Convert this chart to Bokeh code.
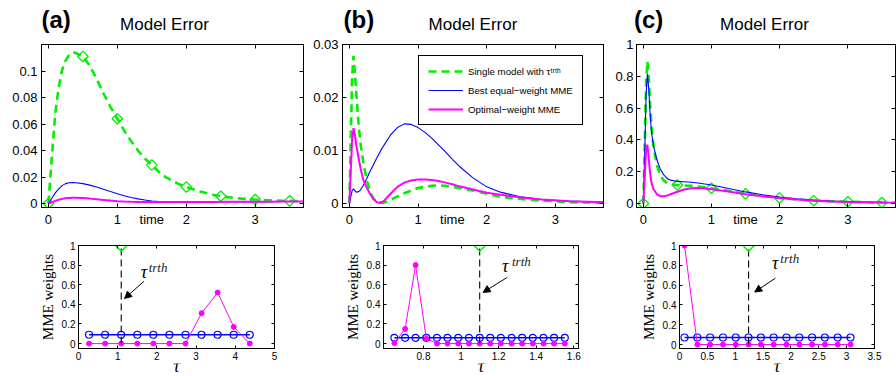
from bokeh.plotting import figure
from bokeh.models import (Range1d, FixedTicker, LinearAxis, Label, Arrow, NormalHead,
                          Legend, LegendItem)
from bokeh.layouts import row, column
from bokeh.embed import file_html
from bokeh.resources import INLINE

# ---------------- data ----------------
TIME_TICKS = [0, 1, 2, 3]
TIME_LABEL_POS = [0, 1, 1.5, 2, 3]
TIME_LABEL_TEXT = ["0", "1", "time", "2", "3"]

# panel (a) - model error
A_TIME = [0, 0.05, 0.1, 0.15, 0.2, 0.25, 0.3, 0.35, 0.4, 0.5, 0.6, 0.7, 0.8, 0.9, 1.0,
          1.1, 1.2, 1.3, 1.4, 1.5, 1.6, 1.7, 1.8, 1.9, 2.0, 2.2, 2.4, 2.6, 2.8, 3.0,
          3.2, 3.4, 3.7]
A_SINGLE = [0, 0.035, 0.068, 0.088, 0.101, 0.108, 0.112, 0.114, 0.1135, 0.111, 0.104,
            0.094, 0.083, 0.073, 0.064, 0.055, 0.047, 0.040, 0.034, 0.029, 0.024, 0.020,
            0.017, 0.0145, 0.0125, 0.009, 0.0065, 0.0048, 0.0037, 0.003, 0.0025, 0.0021,
            0.0018]
A_EQUAL = [0, 0.004, 0.008, 0.011, 0.0135, 0.015, 0.0157, 0.0159, 0.0157, 0.015, 0.0139,
           0.0124, 0.0107, 0.009, 0.0074, 0.0059, 0.0046, 0.0035, 0.0026, 0.0019, 0.0015,
           0.0013, 0.0012, 0.0012, 0.0012, 0.0012, 0.0012, 0.0013, 0.0013, 0.0014, 0.0014,
           0.0015, 0.0015]
A_OPT = [0, 0.001, 0.002, 0.0028, 0.0035, 0.004, 0.0042, 0.0043, 0.0043, 0.0041, 0.0037,
         0.0032, 0.0027, 0.0022, 0.0018, 0.0015, 0.0013, 0.0012, 0.0011, 0.0011, 0.0011,
         0.0011, 0.0011, 0.0011, 0.0012, 0.0012, 0.0012, 0.0013, 0.0013, 0.0014, 0.0014,
         0.0015, 0.0015]
A_MARK_T = [0, 0.5, 1, 1.5, 2, 2.5, 3, 3.5]
A_MARK_V = [0, 0.111, 0.064, 0.029, 0.0125, 0.0055, 0.003, 0.002]
A_YTICKS = [0, 0.02, 0.04, 0.06, 0.08, 0.1]
A_YLABELS = ["0", "0.02", "0.04", "0.06", "0.08", "0.1"]

# panel (b) - model error
B_TIME = [0, 0.02, 0.04, 0.06, 0.08, 0.1, 0.135, 0.16, 0.2, 0.25, 0.3, 0.35, 0.4, 0.45,
          0.5, 0.6, 0.7, 0.8, 0.9, 1.0, 1.1, 1.2, 1.3, 1.4, 1.5, 1.6, 1.8, 2.0, 2.2, 2.5,
          2.8, 3.2, 3.7]
B_SINGLE = [0, 0.012, 0.024, 0.0278, 0.0245, 0.021, 0.0148, 0.0115, 0.008, 0.0045, 0.0022,
            0.0009, 0.0003, 0.0001, 0.0001, 0.0006, 0.0013, 0.0019, 0.0024, 0.0029, 0.0031,
            0.0033, 0.0034, 0.0033, 0.0031, 0.0029, 0.0024, 0.0018, 0.0012, 0.0008, 0.0005,
            0.0002, 0.0001]
B_EQUAL = [0, 0.0012, 0.0024, 0.0027, 0.0024, 0.0021, 0.0022, 0.0025, 0.0033, 0.0046,
           0.006, 0.0073, 0.0086, 0.0098, 0.0109, 0.0129, 0.0143, 0.015, 0.0149, 0.0143,
           0.0134, 0.0123, 0.011, 0.0097, 0.0083, 0.007, 0.0048, 0.0031, 0.0021, 0.0012,
           0.0007, 0.0004, 0.0002]
B_OPT = [0, 0.006, 0.012, 0.0142, 0.013, 0.011, 0.0085, 0.0068, 0.0045, 0.003, 0.0018,
         0.0008, 0.0002, 0.0001, 0.0004, 0.0018, 0.0031, 0.0039, 0.0043, 0.0045, 0.0045,
         0.0044, 0.0042, 0.0039, 0.0036, 0.0032, 0.0026, 0.002, 0.0016, 0.0011, 0.0007,
         0.0004, 0.0002]
B_YTICKS = [0, 0.01, 0.02, 0.03]
B_YLABELS = ["0", "0.01", "0.02", "0.03"]

# panel (c) - model error
C_TIME = [0, 0.02, 0.04, 0.06, 0.08, 0.1, 0.12, 0.15, 0.2, 0.25, 0.3, 0.35, 0.4, 0.5, 0.6,
          0.7, 0.8, 0.9, 1.0, 1.25, 1.5, 1.75, 2.0, 2.25, 2.5, 2.75, 3.0, 3.25, 3.5, 3.7]
C_SINGLE = [0, 0.35, 0.75, 0.895, 0.8, 0.62, 0.48, 0.36, 0.24, 0.175, 0.145, 0.128, 0.12,
            0.116, 0.114, 0.111, 0.107, 0.102, 0.096, 0.079, 0.061, 0.047, 0.035, 0.025,
            0.018, 0.014, 0.011, 0.008, 0.006, 0.005]
C_EQUAL = [0, 0.3, 0.68, 0.815, 0.72, 0.56, 0.45, 0.36, 0.275, 0.215, 0.18, 0.158, 0.147,
           0.139, 0.137, 0.134, 0.129, 0.123, 0.116, 0.094, 0.073, 0.055, 0.04, 0.03, 0.022,
           0.016, 0.012, 0.009, 0.007, 0.006]
C_OPT = [0, 0.15, 0.34, 0.37, 0.28, 0.19, 0.13, 0.09, 0.058, 0.046, 0.045, 0.05, 0.058,
         0.074, 0.088, 0.096, 0.098, 0.095, 0.09, 0.075, 0.059, 0.045, 0.034, 0.025, 0.018,
         0.013, 0.01, 0.008, 0.006, 0.005]
C_MARK_T = [0, 0.5, 1, 1.5, 2, 2.5, 3, 3.5]
C_MARK_V = [0, 0.116, 0.096, 0.061, 0.035, 0.018, 0.011, 0.006]
C_YTICKS = [0, 0.2, 0.4, 0.6, 0.8, 1]
C_YLABELS = ["0", "0.2", "0.4", "0.6", "0.8", "1"]

# MME weights panels
W_YTICKS = [0, 0.2, 0.4, 0.6, 0.8, 1]
W_YLABELS = ["0", "0.2", "0.4", "0.6", "0.8", "1"]

TAU_A = [0.27, 0.68, 1.09, 1.50, 1.91, 2.32, 2.73, 3.14, 3.55, 3.96, 4.37]
EQW_A = [0.09, 0.09, 0.09, 0.09, 0.09, 0.09, 0.09, 0.09, 0.09, 0.09, 0.09]
OPTW_A = [0, 0, 0, 0, 0, 0, 0, 0.31, 0.52, 0.17, 0]
TRUE_TAU_A = 1.09
SINGLE_W = 1.0
A_XTICKS = [0, 1, 2, 3, 4, 5]
A_XLABELS = ["0", "1", "2", "3", "4", "5"]

TAU_B = [0.645, 0.702, 0.758, 0.815, 0.872, 0.928, 0.985, 1.042, 1.099, 1.155, 1.212,
         1.269, 1.325, 1.382, 1.439, 1.495, 1.552]
EQW_B = [0.059, 0.059, 0.059, 0.059, 0.059, 0.059, 0.059, 0.059, 0.059, 0.059, 0.059,
         0.059, 0.059, 0.059, 0.059, 0.059, 0.059]
OPTW_B = [0.005, 0.15, 0.80, 0.05, 0, 0, 0, 0, 0, 0, 0, 0, 0, 0, 0, 0, 0]
TRUE_TAU_B = 1.099
B_XTICKS = [0.8, 1.0, 1.2, 1.4, 1.6]
B_XLABELS = ["0.8", "1", "1.2", "1.4", "1.6"]

TAU_C = [0.09, 0.32, 0.55, 0.78, 1.01, 1.24, 1.46, 1.69, 1.92, 2.15, 2.38, 2.61, 2.84, 3.07]
EQW_C = [0.071, 0.071, 0.071, 0.071, 0.071, 0.071, 0.071, 0.071, 0.071, 0.071, 0.071,
         0.071, 0.071, 0.071]
OPTW_C = [1, 0, 0, 0, 0, 0, 0, 0, 0, 0, 0, 0, 0, 0]
TRUE_TAU_C = 1.24
C_XTICKS = [0, 0.5, 1, 1.5, 2, 2.5, 3, 3.5]
C_XLABELS = ["0", "0.5", "1", "1.5", "2", "2.5", "3", "3.5"]

LEGEND_LABELS = ["Single model with \u03c4\u1d57\u02b3\u1d57\u02b0",
                 "Best equal\u2212weight MME", "Optimal\u2212weight MME"]

# ---------------- styling ----------------
SANS = "Liberation Sans"
SERIF = "Liberation Serif"
GREEN = "#00f000"
BLUE = "#0000ff"
MAGENTA = "#ff00ff"


def style_axis(ax, ticks, labels, size, standoff, tick_len):
    ax.ticker = FixedTicker(ticks=ticks)
    ax.major_label_overrides = {t: s for t, s in zip(ticks, labels)}
    ax.major_tick_in = tick_len
    ax.major_tick_out = 0
    ax.minor_tick_line_color = None
    ax.major_tick_line_color = "black"
    ax.axis_line_color = "black"
    ax.major_label_text_font = SANS
    ax.major_label_text_font_size = size
    ax.major_label_text_color = "black"
    ax.major_label_standoff = standoff


def ticks_only(ax, ticks, tick_len):
    ax.ticker = FixedTicker(ticks=ticks)
    ax.major_tick_in = tick_len
    ax.major_tick_out = 0
    ax.minor_tick_line_color = None
    ax.major_tick_line_color = "black"
    ax.axis_line_color = "black"
    ax.major_label_text_font_size = "0px"
    ax.major_label_text_color = None
    ax.major_label_standoff = 0


def mirror_axis(p, ticks, side, tick_len):
    ax = LinearAxis()
    ticks_only(ax, ticks, tick_len)
    p.add_layout(ax, side)


def make_panel(width, height, borders, xr, yr):
    l, r, t, b = borders
    p = figure(width=width, height=height, x_range=Range1d(*xr), y_range=Range1d(*yr),
               output_backend="svg", toolbar_location=None, tools="", title=None,
               min_border_left=l, min_border_right=r, min_border_top=t,
               min_border_bottom=b)
    p.grid.visible = False
    p.outline_line_color = "black"
    p.outline_line_width = 1
    p.outline_line_alpha = 1
    p.background_fill_color = "white"
    p.border_fill_color = "white"
    return p


def text_strip(width, height, items):
    """A plain strip whose frame is the whole canvas; 1 data unit = 1 pixel.
    y of each item is the bottom of its text box."""
    h = figure(width=width, height=height, x_range=Range1d(0, width),
               y_range=Range1d(0, height), x_axis_location=None, y_axis_location=None,
               output_backend="svg", toolbar_location=None, tools="", title=None,
               min_border_left=0, min_border_right=0, min_border_top=0,
               min_border_bottom=0)
    h.grid.visible = False
    h.outline_line_color = None
    h.background_fill_color = "white"
    h.border_fill_color = "white"
    for (x, y, s, font, size, style, align) in items:
        h.add_layout(Label(x=x, y=y, text=s, text_font=font, text_font_size=size,
                           text_font_style=style, text_align=align,
                           text_baseline="bottom", text_color="black"))
    return h


def error_panel(width, height, borders, yr, yticks, ylabels, ystand, t, single, equal,
                opt, mark_t, mark_v):
    p = make_panel(width, height, borders, (-0.1, 3.7), yr)
    ticks_only(p.xaxis[0], TIME_TICKS, 4)
    lab = LinearAxis()
    style_axis(lab, TIME_LABEL_POS, TIME_LABEL_TEXT, "13px", 4, 0)
    lab.major_tick_line_color = None
    lab.axis_line_color = None
    p.add_layout(lab, "below")
    style_axis(p.yaxis[0], yticks, ylabels, "13px", ystand, 4)
    mirror_axis(p, TIME_TICKS, "above", 4)
    mirror_axis(p, yticks, "right", 4)
    g = p.line(t, single, line_color=GREEN, line_width=2.6, line_dash="8 5")
    if mark_t is not None:
        p.scatter(mark_t, mark_v, marker="square", angle=0.785398, size=7.5,
                  fill_color=None, line_color=GREEN, line_width=1.3)
    b = p.line(t, equal, line_color=BLUE, line_width=1.1)
    m = p.line(t, opt, line_color=MAGENTA, line_width=2.0)
    return p, g, b, m


HEAD_H = 34
ha = text_strip(310, HEAD_H, [(41, 1.9, "(a)", SANS, "24px", "bold", "left"),
                              (164, 0.4, "Model Error", SANS, "17px", "normal", "center")])
hb = text_strip(302, HEAD_H, [(33, 1.9, "(b)", SANS, "24px", "bold", "left"),
                              (162.5, 0.4, "Model Error", SANS, "17px", "normal", "center")])
hc = text_strip(284, HEAD_H, [(21.5, 1.9, "(c)", SANS, "24px", "bold", "left"),
                              (152, 0.4, "Model Error", SANS, "17px", "normal", "center")])

ta, _, _, _ = error_panel(310, 195, (41, 7, 7, 20), (-0.003, 0.12), A_YTICKS, A_YLABELS,
                          4, A_TIME, A_SINGLE, A_EQUAL, A_OPT, A_MARK_T, A_MARK_V)
tb, gb, bb_, mb = error_panel(302, 195, (32, 9, 10, 19), (-0.0008, 0.03), B_YTICKS,
                              B_YLABELS, 4, B_TIME, B_SINGLE, B_EQUAL, B_OPT, None, None)
tc, _, _, _ = error_panel(284, 195, (21, 1, 8, 20), (-0.025, 1.0), C_YTICKS, C_YLABELS,
                          3, C_TIME, C_SINGLE, C_EQUAL, C_OPT, C_MARK_T, C_MARK_V)

legend = Legend(items=[LegendItem(label=LEGEND_LABELS[0], renderers=[gb]),
                       LegendItem(label=LEGEND_LABELS[1], renderers=[bb_]),
                       LegendItem(label=LEGEND_LABELS[2], renderers=[mb])],
                location=(76, 82), orientation="vertical",
                border_line_color="black", border_line_width=1, border_line_alpha=1,
                background_fill_color="white", background_fill_alpha=1,
                label_text_font=SANS, label_text_font_size="9.7px",
                label_text_color="black",
                glyph_width=35, glyph_height=12, label_height=12, label_standoff=5,
                spacing=7, padding=9, margin=0)
tb.add_layout(legend)


def weight_panel(width, borders, xr, yr, xticks, xlabels, tau, eqw, optw, true_tau,
                 tau_lbl, sup_lbl, arrow):
    p = make_panel(width, 134, borders, xr, yr)
    style_axis(p.xaxis[0], xticks, xlabels, "10px", 3, 3)
    style_axis(p.yaxis[0], W_YTICKS, W_YLABELS, "10px", 3, 3)
    mirror_axis(p, xticks, "above", 3)
    mirror_axis(p, W_YTICKS, "right", 3)
    ya = p.yaxis[0]
    ya.axis_label = "MME weights"
    ya.axis_label_text_font = SERIF
    ya.axis_label_text_font_size = "15px"
    ya.axis_label_text_font_style = "normal"
    ya.axis_label_text_color = "black"
    ya.axis_label_standoff = 3

    p.line(tau, eqw, line_color=BLUE, line_width=1.6)
    p.scatter(tau, eqw, marker="circle", size=7, fill_color=None, line_color=BLUE,
              line_width=1.2)
    p.line(tau, optw, line_color=MAGENTA, line_width=1.0)
    p.scatter(tau, optw, marker="circle", size=5, fill_color=MAGENTA,
              line_color=MAGENTA)
    p.line([true_tau, true_tau], [0, SINGLE_W], line_color="black", line_width=1.1,
           line_dash="7 4")
    p.scatter([true_tau], [SINGLE_W], marker="square", angle=0.785398, size=8,
              fill_color=None, line_color=GREEN, line_width=1.5)

    p.add_layout(Label(x=tau_lbl[0], y=tau_lbl[1], text="\u03c4", text_font=SERIF,
                       text_font_size="18px", text_font_style="italic",
                       text_baseline="bottom", text_color="black"))
    p.add_layout(Label(x=sup_lbl[0], y=sup_lbl[1], text="trth", text_font=SERIF,
                       text_font_size="13px", text_font_style="italic",
                       text_baseline="bottom", text_color="#222222"))
    p.add_layout(Arrow(end=NormalHead(size=7, fill_color="black", line_color="black"),
                       x_start=arrow[0], y_start=arrow[1], x_end=arrow[2],
                       y_end=arrow[3], line_color="black", line_width=1))
    return p


ba = weight_panel(340, (78, 66, 16, 15), (0, 5), (-0.05, 1.0), A_XTICKS, A_XLABELS,
                  TAU_A, EQW_A, OPTW_A, TRUE_TAU_A,
                  (1.59, 0.63), (1.79, 0.70), (1.67, 0.635, 1.175, 0.46))
bbp = weight_panel(295, (43, 57, 16, 15), (0.587, 1.625), (-0.05, 1.0), B_XTICKS,
                   B_XLABELS, TAU_B, EQW_B, OPTW_B, TRUE_TAU_B,
                   (1.218, 0.684), (1.271, 0.761), (1.245, 0.674, 1.117, 0.522))
bc = weight_panel(261, (44, 22, 16, 15), (0, 3.5), (-0.04, 1.0), C_XTICKS, C_XLABELS,
                  TAU_C, EQW_C, OPTW_C, TRUE_TAU_C,
                  (1.66, 0.72), (1.81, 0.79), (1.72, 0.67, 1.35, 0.53))

FOOT_H = 13
fa = text_strip(340, FOOT_H, [(176, 0.6, "\u03c4", SERIF, "18px", "italic", "center")])
fb = text_strip(295, FOOT_H, [(140.5, 0.6, "\u03c4", SERIF, "18px", "italic", "center")])
fc = text_strip(261, FOOT_H, [(141.5, 0.6, "\u03c4", SERIF, "18px", "italic", "center")])

layout = column(row(ha, hb, hc, spacing=0),
                row(ta, tb, tc, spacing=0),
                row(ba, bbp, bc, spacing=0),
                row(fa, fb, fc, spacing=0), spacing=0)

with open("out.html", "w") as f:
    f.write(file_html(layout, INLINE))
